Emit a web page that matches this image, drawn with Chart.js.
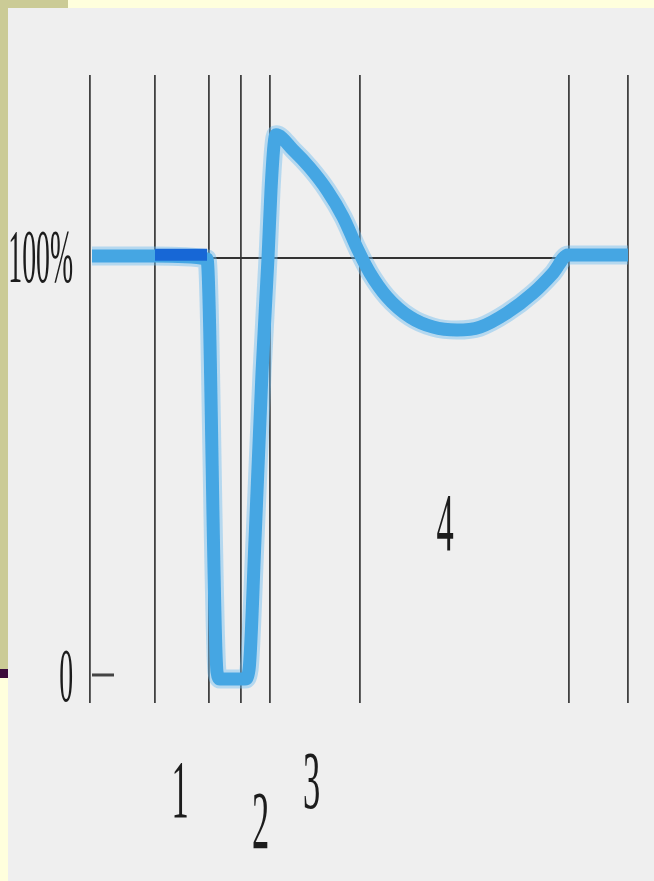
<!DOCTYPE html>
<html lang="en">
<head>
    <meta charset="UTF-8">
    <title>Excitability curve</title>
    <script src="https://cdn.jsdelivr.net/npm/chart.js@4.4.0/dist/chart.umd.min.js"></script>
    <style>
        body { margin: 0; width: 654px; height: 881px; overflow: hidden; background: #efefef; position: relative; }
        .strip { position: absolute; }
        #topStrip { left: 0; top: 0; width: 654px; height: 8px; background: #ffffdd; }
        #topKhaki { left: 0; top: 0; width: 68px; height: 8px; background: #cbcb96; }
        #leftKhaki { left: 0; top: 0; width: 8px; height: 669px; background: #cbcb96; }
        #leftPurple { left: 0; top: 669px; width: 8px; height: 9px; background: #3b0b3b; }
        #leftPale { left: 0; top: 678px; width: 8px; height: 203px; background: #ffffdd; }
        #box { position: absolute; left: 8px; top: 8px; width: 646px; height: 873px; }
    </style>
</head>
<body>
    <div class="strip" id="topStrip"></div>
    <div class="strip" id="topKhaki"></div>
    <div class="strip" id="leftKhaki"></div>
    <div class="strip" id="leftPurple"></div>
    <div class="strip" id="leftPale"></div>
    <div id="box"><canvas id="myChart" width="646" height="873"></canvas></div>

<script>
    // limites das fases (linhas verticais)
    const gridX = [0, 65, 119, 151, 180, 270, 479, 538];

    // curva principal (% do valor de repouso)
    const curveX = [2, 65, 117, 127, 130, 155, 159, 165, 172, 178, 181, 184, 186,
        203, 220, 237, 253, 268, 280, 297, 320, 343, 367, 390, 417, 443, 463, 478, 538];
    const curveY = [100.5, 100.5, 99.8, 1.2, -0.5, -0.5, 1.7, 32.7, 72.6, 100, 116.2, 127, 129.4,
        125.8, 121.5, 116.2, 109.8, 101.9, 96.4, 90.7, 85.9, 83.5, 82.8, 83.5, 86.9, 91.6, 96.4, 100.7, 100.7];

    // trecho do estímulo (azul escuro)
    const stimX = [65, 117];
    const stimY = [100.8, 100.8];

    // linha de referência 100%
    const refX = [119, 478];
    const refY = [100, 100];

    const yTicks = [0, 100];
    const yTickLabels = ['0', '100%'];

    const phaseLabels = ['1', '2', '3', '4'];
    const phaseX = [90, 170.5, 221.5, 355];
    const phaseY = [-33.4, -40.8, -31.3, 30.3];

    function pontos(xs, ys) {
        return xs.map((x, i) => ({ x: x, y: ys[i] }));
    }

    function textoEstreito(ctx, txt, x, y, size, sx, align) {
        ctx.save();
        ctx.font = size + 'px "Liberation Serif", "DejaVu Serif", serif';
        ctx.fillStyle = '#1c1c1c';
        ctx.textBaseline = 'alphabetic';
        ctx.translate(x, y);
        ctx.scale(sx, 1);
        ctx.textAlign = align;
        ctx.fillText(txt, 0, 0);
        ctx.restore();
    }

    const rotulos = {
        id: 'rotulos',
        afterDatasetsDraw(chart) {
            const ctx = chart.ctx;
            const xs = chart.scales.x;
            const ys = chart.scales.y;
            const area = chart.chartArea;

            // marca do zero
            ctx.save();
            ctx.strokeStyle = '#444';
            ctx.lineWidth = 3;
            ctx.beginPath();
            const y0 = ys.getPixelForValue(0) - 2;
            ctx.moveTo(area.left + 2, y0);
            ctx.lineTo(area.left + 24, y0);
            ctx.stroke();
            ctx.restore();

            yTicks.forEach((v, i) => {
                textoEstreito(ctx, yTickLabels[i], area.left - 17, ys.getPixelForValue(v) + 24, 77, 0.36, 'right');
            });

            phaseLabels.forEach((t, i) => {
                textoEstreito(ctx, t, xs.getPixelForValue(phaseX[i]), ys.getPixelForValue(phaseY[i]), 82, 0.42, 'center');
            });
        }
    };

    const dados = {
        datasets: [
            {
                data: pontos(stimX, stimY),
                borderColor: '#1767d6',
                borderWidth: 12,
                order: 1
            },
            {
                data: pontos(curveX, curveY),
                borderColor: '#45a6e3',
                borderWidth: 13,
                cubicInterpolationMode: 'monotone',
                order: 2
            },
            {
                data: pontos(curveX, curveY),
                borderColor: 'rgba(110, 188, 240, 0.45)',
                borderWidth: 19,
                cubicInterpolationMode: 'monotone',
                order: 3
            },
            {
                data: pontos(refX, refY),
                borderColor: '#333',
                borderWidth: 2,
                order: 4
            }
        ]
    };

    const config = {
        type: 'line',
        data: dados,
        options: {
            responsive: false,
            animation: false,
            events: [],
            elements: {
                point: { radius: 0 },
                line: { borderCapStyle: 'butt', borderJoinStyle: 'round' }
            },
            datasets: { line: { clip: false } },
            layout: { padding: { left: 82, top: 67, right: 26, bottom: 178 } },
            plugins: { legend: { display: false }, tooltip: { enabled: false } },
            scales: {
                x: {
                    type: 'linear',
                    min: 0,
                    max: 538,
                    border: { display: false },
                    ticks: { display: false },
                    grid: { color: 'rgba(45, 45, 45, 0.9)', lineWidth: 1.8, drawTicks: false },
                    afterBuildTicks(scale) {
                        scale.ticks = gridX.map(v => ({ value: v }));
                    },
                    afterFit(scale) { scale.height = 0; }
                },
                y: {
                    type: 'linear',
                    min: -6.21,
                    max: 143.67,
                    border: { display: false },
                    ticks: { display: false },
                    grid: { display: false },
                    afterFit(scale) { scale.width = 0; }
                }
            }
        },
        plugins: [rotulos]
    };

    let myChart = new Chart(document.getElementById('myChart'), config);
</script>
</body>
</html>
